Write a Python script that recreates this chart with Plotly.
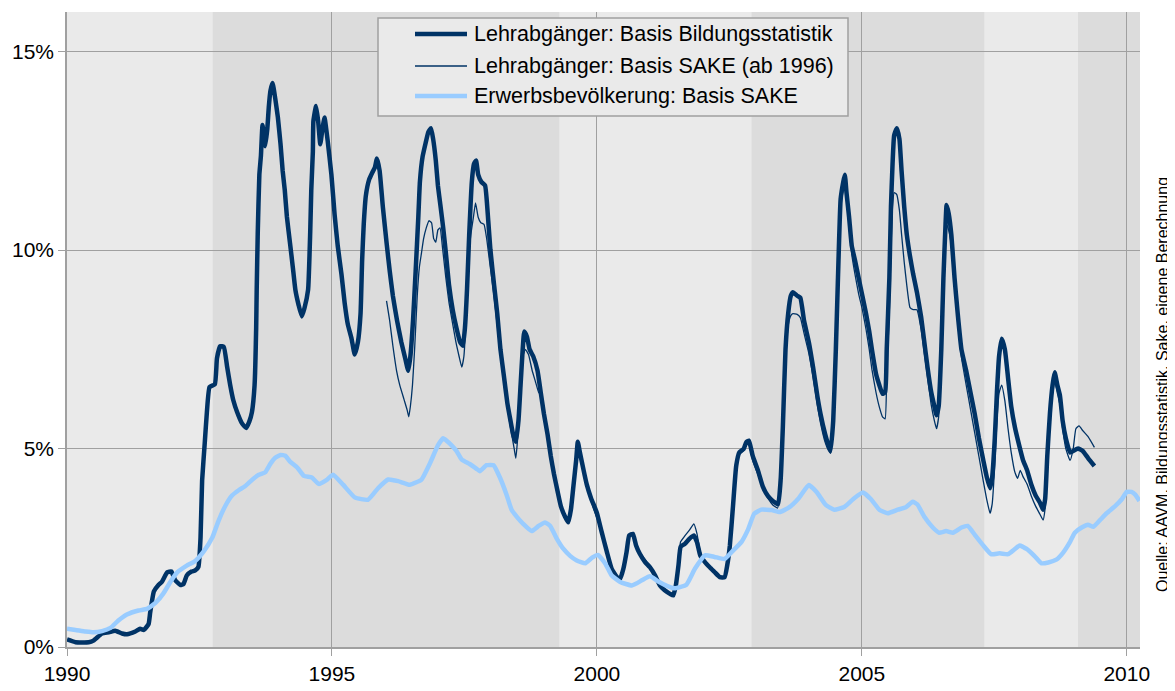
import plotly.graph_objects as go

# ---- Data ----
bild_year = [1990.0, 1990.16, 1990.41, 1990.5, 1990.66, 1990.79, 1990.91, 1991.04, 1991.13, 1991.29,
             1991.38, 1991.45, 1991.54, 1991.57, 1991.64, 1991.73, 1991.79, 1991.89, 1991.97, 1992.04,
             1992.14, 1992.2, 1992.26, 1992.35, 1992.42, 1992.48, 1992.52, 1992.55, 1992.6, 1992.64,
             1992.69, 1992.79, 1992.83, 1992.89, 1992.96, 1993.02, 1993.08, 1993.14, 1993.21, 1993.3,
             1993.38, 1993.44, 1993.49, 1993.54, 1993.57, 1993.58, 1993.6, 1993.63, 1993.66, 1993.69,
             1993.74, 1993.78, 1993.81, 1993.84, 1993.88, 1993.93, 1993.98, 1994.03, 1994.07, 1994.11,
             1994.15, 1994.21, 1994.26, 1994.31, 1994.37, 1994.43, 1994.48, 1994.55, 1994.59, 1994.61,
             1994.64, 1994.65, 1994.7, 1994.74, 1994.78, 1994.82, 1994.86, 1994.92, 1994.99, 1995.05,
             1995.11, 1995.18, 1995.24, 1995.3, 1995.37, 1995.43, 1995.49, 1995.54, 1995.57, 1995.6,
             1995.64, 1995.7, 1995.76, 1995.81, 1995.85, 1995.9, 1995.96, 1996.03, 1996.09, 1996.15,
             1996.23, 1996.31, 1996.39, 1996.44, 1996.48, 1996.53, 1996.58, 1996.63, 1996.66, 1996.71,
             1996.77, 1996.82, 1996.87, 1996.91, 1996.96, 1997.0, 1997.05, 1997.1, 1997.15, 1997.21,
             1997.28, 1997.35, 1997.42, 1997.47, 1997.51, 1997.55, 1997.59, 1997.64, 1997.68, 1997.72,
             1997.76, 1997.82, 1997.89, 1997.95, 1997.99, 1998.06, 1998.12, 1998.18, 1998.25, 1998.31,
             1998.37, 1998.42, 1998.47, 1998.52, 1998.56, 1998.6, 1998.63, 1998.68, 1998.73, 1998.8,
             1998.88, 1998.94, 1999.0, 1999.07, 1999.13, 1999.19, 1999.26, 1999.32, 1999.4, 1999.46,
             1999.51, 1999.56, 1999.61, 1999.64, 1999.68, 1999.75, 1999.81, 1999.89, 2000.0, 2000.09,
             2000.19, 2000.28, 2000.38, 2000.44, 2000.5, 2000.56, 2000.61, 2000.68, 2000.74, 2000.81,
             2000.91, 2001.0, 2001.1, 2001.19, 2001.28, 2001.38, 2001.44, 2001.49, 2001.54, 2001.58,
             2001.66, 2001.75, 2001.83, 2001.89, 2001.95, 2002.04, 2002.13, 2002.22, 2002.32, 2002.41,
             2002.46, 2002.51, 2002.57, 2002.63, 2002.69, 2002.77, 2002.82, 2002.87, 2002.94, 2003.04,
             2003.13, 2003.23, 2003.32, 2003.42, 2003.47, 2003.51, 2003.56, 2003.61, 2003.66, 2003.7,
             2003.78, 2003.84, 2003.91, 2004.0, 2004.08, 2004.16, 2004.22, 2004.31, 2004.37, 2004.41,
             2004.46, 2004.51, 2004.56, 2004.6, 2004.65, 2004.68, 2004.71, 2004.76, 2004.81, 2004.87,
             2004.94, 2005.01, 2005.08, 2005.14, 2005.19, 2005.27, 2005.33, 2005.39, 2005.44, 2005.47,
             2005.52, 2005.55, 2005.58, 2005.61, 2005.66, 2005.71, 2005.75, 2005.8, 2005.85, 2005.91,
             2005.97, 2006.04, 2006.12, 2006.18, 2006.24, 2006.31, 2006.37, 2006.41, 2006.45, 2006.5,
             2006.54, 2006.58, 2006.6, 2006.64, 2006.69, 2006.75, 2006.81, 2006.88, 2006.97, 2007.05,
             2007.13, 2007.21, 2007.29, 2007.36, 2007.42, 2007.46, 2007.51, 2007.55, 2007.59, 2007.64,
             2007.7, 2007.76, 2007.82, 2007.89, 2007.97, 2008.04, 2008.12, 2008.2, 2008.28, 2008.36,
             2008.42, 2008.46, 2008.5, 2008.55, 2008.6, 2008.64, 2008.69, 2008.74, 2008.79, 2008.85,
             2008.93, 2008.99, 2009.08, 2009.17, 2009.27, 2009.39]
bild_val = [0.19, 0.12, 0.12, 0.16, 0.34, 0.37, 0.41, 0.34, 0.32, 0.39,
            0.46, 0.43, 0.58, 0.87, 1.40, 1.57, 1.64, 1.88, 1.90, 1.69,
            1.56, 1.59, 1.80, 1.90, 1.93, 2.02, 2.75, 4.19, 5.15, 5.92,
            6.55, 6.62, 7.27, 7.58, 7.56, 7.08, 6.60, 6.21, 5.92, 5.64,
            5.52, 5.68, 5.92, 6.60, 8.04, 9.00, 10.45, 11.90, 12.38, 13.15,
            12.62, 13.05, 13.63, 14.02, 14.21, 13.82, 13.34, 12.67, 12.00, 11.51,
            10.84, 10.16, 9.59, 9.00, 8.62, 8.33, 8.53, 9.00, 10.45, 11.51,
            12.48, 13.25, 13.63, 13.25, 12.67, 13.05, 13.34, 12.75, 11.90, 10.90,
            10.10, 9.39, 8.67, 8.13, 7.77, 7.37, 7.68, 8.40, 9.75, 10.65,
            11.37, 11.77, 11.95, 12.08, 12.31, 12.00, 11.10, 10.20, 9.48, 8.85,
            8.22, 7.68, 7.23, 6.96, 7.32, 8.22, 9.48, 10.83, 11.72, 12.35,
            12.71, 12.98, 13.07, 12.80, 12.26, 11.63, 11.10, 10.56, 9.93, 9.12,
            8.49, 8.04, 7.68, 7.59, 8.04, 9.03, 10.38, 11.72, 12.17, 12.26,
            11.90, 11.72, 11.63, 10.74, 10.02, 9.12, 8.40, 7.50, 6.78, 6.15,
            5.70, 5.35, 5.17, 5.70, 6.60, 7.50, 7.95, 7.82, 7.50, 7.32,
            6.96, 6.42, 5.88, 5.35, 4.81, 4.36, 3.91, 3.55, 3.28, 3.14,
            3.46, 4.09, 4.72, 5.17, 4.90, 4.45, 4.09, 3.75, 3.38, 2.90,
            2.39, 1.97, 1.76, 1.72, 1.97, 2.39, 2.81, 2.85, 2.56, 2.35,
            2.14, 2.01, 1.80, 1.55, 1.43, 1.34, 1.30, 1.55, 2.06, 2.52,
            2.60, 2.73, 2.81, 2.64, 2.31, 2.14, 2.01, 1.89, 1.76, 1.76,
            2.06, 2.56, 3.57, 4.57, 4.91, 4.99, 5.16, 5.20, 4.82, 4.45,
            4.05, 3.80, 3.68, 3.60, 4.25, 5.55, 7.50, 8.40, 8.85, 8.94,
            8.85, 8.80, 8.22, 7.68, 7.05, 6.33, 5.88, 5.35, 5.08, 4.94,
            5.70, 7.50, 9.75, 11.28, 11.72, 11.90, 11.46, 10.83, 10.11, 9.75,
            9.30, 8.85, 8.40, 7.95, 7.50, 6.87, 6.60, 6.38, 6.42, 7.50,
            9.30, 11.10, 12.17, 12.89, 13.07, 12.80, 12.00, 11.10, 10.38, 9.84,
            9.39, 8.94, 8.31, 7.68, 7.05, 6.42, 6.06, 5.84, 6.06, 7.50,
            9.30, 10.65, 11.14, 10.92, 10.38, 9.30, 8.40, 7.50, 6.96, 6.42,
            5.88, 5.26, 4.72, 4.27, 4.00, 4.27, 5.26, 6.42, 7.32, 7.77,
            7.50, 6.78, 6.06, 5.53, 5.08, 4.72, 4.45, 4.09, 3.82, 3.64,
            3.46, 3.73, 4.81, 5.88, 6.60, 6.92, 6.60, 6.33, 5.70, 5.26,
            4.90, 4.94, 5.00, 4.94, 4.76, 4.56]

sake_year = [1996.03, 1996.09, 1996.15, 1996.22, 1996.28, 1996.36, 1996.42, 1996.45, 1996.48, 1996.52,
             1996.56, 1996.61, 1996.65, 1996.69, 1996.73, 1996.78, 1996.83, 1996.88, 1996.92, 1996.96,
             1997.0, 1997.04, 1997.09, 1997.15, 1997.21, 1997.28, 1997.34, 1997.4, 1997.45, 1997.49,
             1997.53, 1997.57, 1997.62, 1997.67, 1997.71, 1997.76, 1997.81, 1997.87, 1997.92, 1997.98,
             1998.05, 1998.11, 1998.18, 1998.25, 1998.31, 1998.37, 1998.44, 1998.47, 1998.51, 1998.55,
             1998.6, 1998.65, 1998.71, 1998.78, 1998.84, 1998.9, 1998.94, 1999.0, 1999.07, 1999.13,
             1999.19, 1999.26, 1999.32, 1999.4, 1999.46, 1999.51, 1999.56, 1999.61, 1999.64, 1999.68,
             1999.75, 1999.81, 1999.91, 2000.0, 2000.09, 2000.19, 2000.28, 2000.38, 2000.44, 2000.5,
             2000.56, 2000.61, 2000.68, 2000.74, 2000.81, 2000.91, 2001.0, 2001.1, 2001.19, 2001.28,
             2001.38, 2001.44, 2001.49, 2001.54, 2001.58, 2001.66, 2001.75, 2001.83, 2001.89, 2001.95,
             2002.04, 2002.13, 2002.22, 2002.32, 2002.41, 2002.46, 2002.51, 2002.57, 2002.63, 2002.69,
             2002.77, 2002.82, 2002.87, 2002.94, 2003.04, 2003.13, 2003.23, 2003.32, 2003.41, 2003.46,
             2003.5, 2003.54, 2003.57, 2003.61, 2003.66, 2003.7, 2003.78, 2003.84, 2003.91, 2004.0,
             2004.08, 2004.16, 2004.22, 2004.31, 2004.37, 2004.41, 2004.46, 2004.51, 2004.56, 2004.6,
             2004.65, 2004.68, 2004.71, 2004.76, 2004.81, 2004.87, 2004.94, 2005.01, 2005.08, 2005.14,
             2005.19, 2005.27, 2005.33, 2005.39, 2005.44, 2005.47, 2005.52, 2005.55, 2005.58, 2005.61,
             2005.66, 2005.71, 2005.75, 2005.8, 2005.85, 2005.91, 2005.97, 2006.04, 2006.12, 2006.18,
             2006.24, 2006.31, 2006.37, 2006.41, 2006.45, 2006.5, 2006.54, 2006.58, 2006.6, 2006.64,
             2006.69, 2006.75, 2006.81, 2006.88, 2006.97, 2007.05, 2007.13, 2007.21, 2007.29, 2007.36,
             2007.42, 2007.46, 2007.51, 2007.55, 2007.59, 2007.64, 2007.7, 2007.76, 2007.82, 2007.89,
             2007.94, 2007.99, 2008.04, 2008.12, 2008.2, 2008.28, 2008.36, 2008.42, 2008.46, 2008.5,
             2008.55, 2008.6, 2008.64, 2008.69, 2008.74, 2008.79, 2008.85, 2008.93, 2008.99, 2009.04,
             2009.1, 2009.17, 2009.27, 2009.39]
sake_val = [8.72, 8.22, 7.59, 6.96, 6.60, 6.24, 5.97, 5.80, 6.06, 6.60,
            7.50, 8.85, 9.57, 9.93, 10.29, 10.56, 10.74, 10.69, 10.29, 10.20,
            10.51, 10.56, 10.02, 9.30, 8.67, 8.13, 7.68, 7.32, 7.05, 7.32,
            8.22, 9.48, 10.38, 10.83, 11.19, 10.83, 10.69, 10.65, 10.29, 9.66,
            8.94, 8.22, 7.41, 6.60, 6.06, 5.53, 4.99, 4.76, 5.35, 6.42,
            7.32, 7.50, 7.37, 6.96, 6.69, 6.42, 6.35, 5.85, 5.30, 4.78,
            4.33, 3.88, 3.52, 3.25, 3.12, 3.44, 4.05, 4.68, 5.12, 4.86,
            4.42, 4.06, 3.60, 3.25, 2.95, 2.35, 1.93, 1.72, 1.68, 1.95,
            2.35, 2.78, 2.82, 2.60, 2.40, 2.20, 2.05, 1.82, 1.60, 1.45,
            1.33, 1.30, 1.60, 2.20, 2.65, 2.80, 2.95, 3.10, 2.85, 2.40,
            2.18, 2.03, 1.90, 1.77, 1.75, 2.05, 2.55, 3.50, 4.50, 4.85,
            4.95, 5.10, 5.10, 4.70, 4.35, 4.05, 3.75, 3.58, 3.50, 4.10,
            5.30, 6.50, 7.40, 8.10, 8.35, 8.40, 8.38, 8.30, 7.90, 7.40,
            6.80, 6.10, 5.65, 5.15, 4.95, 4.88, 5.60, 7.30, 9.50, 11.00,
            11.50, 11.60, 11.30, 10.60, 9.90, 9.40, 8.90, 8.50, 8.00, 7.50,
            7.00, 6.40, 6.05, 5.80, 5.75, 6.80, 8.50, 10.00, 11.10, 11.45,
            11.40, 11.00, 10.40, 9.70, 9.10, 8.55, 8.50, 8.50, 8.00, 7.40,
            6.80, 6.10, 5.70, 5.50, 5.80, 7.30, 9.00, 10.40, 10.65, 10.50,
            10.10, 9.10, 8.20, 7.30, 6.60, 6.00, 5.40, 4.80, 4.20, 3.70,
            3.37, 3.60, 4.60, 5.70, 6.40, 6.60, 6.20, 5.50, 4.90, 4.40,
            4.25, 4.45, 4.30, 4.10, 3.80, 3.55, 3.35, 3.20, 3.50, 4.60,
            5.70, 6.40, 6.70, 6.40, 6.10, 5.50, 5.00, 4.70, 5.00, 5.50,
            5.57, 5.45, 5.30, 5.03]

erw_year = [1990.0, 1990.16, 1990.35, 1990.5, 1990.66, 1990.82, 1990.97, 1991.13, 1991.35, 1991.51,
            1991.67, 1991.82, 1991.95, 1992.08, 1992.26, 1992.42, 1992.58, 1992.74, 1992.86, 1992.99,
            1993.11, 1993.24, 1993.36, 1993.49, 1993.62, 1993.74, 1993.84, 1993.93, 1994.03, 1994.12,
            1994.21, 1994.34, 1994.47, 1994.62, 1994.75, 1994.91, 1995.02, 1995.21, 1995.43, 1995.68,
            1995.87, 1996.06, 1996.25, 1996.47, 1996.69, 1996.85, 1997.0, 1997.1, 1997.23, 1997.35,
            1997.45, 1997.6, 1997.73, 1997.79, 1997.92, 1998.05, 1998.17, 1998.3, 1998.39, 1998.49,
            1998.61, 1998.77, 1998.9, 1999.02, 1999.12, 1999.24, 1999.37, 1999.5, 1999.62, 1999.78,
            1999.91, 2000.02, 2000.16, 2000.28, 2000.44, 2000.66, 2000.85, 2001.0, 2001.16, 2001.32,
            2001.47, 2001.69, 2001.85, 2002.04, 2002.22, 2002.41, 2002.57, 2002.73, 2002.85, 2002.97,
            2003.1, 2003.3, 2003.45, 2003.62, 2003.81, 2004.0, 2004.15, 2004.32, 2004.48, 2004.67,
            2004.84, 2005.02, 2005.17, 2005.33, 2005.49, 2005.68, 2005.83, 2005.96, 2006.05, 2006.18,
            2006.34, 2006.46, 2006.59, 2006.72, 2006.88, 2007.0, 2007.13, 2007.29, 2007.44, 2007.6,
            2007.76, 2007.89, 2007.98, 2008.11, 2008.26, 2008.39, 2008.52, 2008.67, 2008.8, 2008.93,
            2009.02, 2009.15, 2009.27, 2009.37, 2009.49, 2009.62, 2009.78, 2009.91, 2010.0, 2010.09,
            2010.16, 2010.24]
erw_val = [0.46, 0.43, 0.39, 0.37, 0.40, 0.48, 0.67, 0.82, 0.92, 0.96,
           1.11, 1.35, 1.64, 1.88, 2.05, 2.17, 2.41, 2.75, 3.18, 3.56,
           3.81, 3.95, 4.05, 4.21, 4.34, 4.40, 4.62, 4.77, 4.84, 4.82,
           4.67, 4.53, 4.31, 4.27, 4.11, 4.22, 4.34, 4.09, 3.77, 3.71,
           4.00, 4.22, 4.18, 4.09, 4.22, 4.63, 5.08, 5.26, 5.12, 4.94,
           4.72, 4.61, 4.49, 4.43, 4.58, 4.58, 4.27, 3.82, 3.46, 3.28,
           3.10, 2.92, 3.05, 3.14, 3.05, 2.74, 2.47, 2.29, 2.18, 2.11,
           2.25, 2.32, 2.10, 1.80, 1.64, 1.55, 1.68, 1.78, 1.65, 1.54,
           1.48, 1.57, 1.97, 2.31, 2.27, 2.22, 2.43, 2.65, 2.95, 3.36,
           3.46, 3.45, 3.40, 3.51, 3.75, 4.08, 3.90, 3.58, 3.46, 3.53,
           3.73, 3.89, 3.73, 3.46, 3.37, 3.46, 3.52, 3.66, 3.59, 3.28,
           3.01, 2.88, 2.92, 2.88, 3.01, 3.05, 2.83, 2.56, 2.34, 2.36,
           2.34, 2.47, 2.56, 2.47, 2.29, 2.11, 2.13, 2.20, 2.38, 2.65,
           2.88, 3.01, 3.08, 3.03, 3.19, 3.37, 3.55, 3.73, 3.91, 3.91,
           3.84, 3.68]

# Shaded phases (dark bands)
band_start = [1992.75, 2002.92, 2009.08]
band_end = [1999.29, 2007.31, 2010.25]

x_ticks = [1990, 1995, 2000, 2005, 2010]
y_ticks = [0, 5, 10, 15]
y_tick_labels = ["0%", "5%", "10%", "15%"]

names = ["Lehrabgänger: Basis Bildungsstatistik",
         "Lehrabgänger: Basis SAKE (ab 1996)",
         "Erwerbsbevölkerung: Basis SAKE"]
source_text = "Quelle: AAVM, Bildungsstatistik, Sake, eigene Berechnung"

NAVY = "#003366"
LIGHT = "#99ccff"
FONT = "Liberation Sans, Arial, sans-serif"
colors = [NAVY, NAVY, LIGHT]
widths = [4.5, 1.3, 4.5]

# page body has an 8px margin: figure is sized to fill the rest of the window
W, H = 1167, 683
ML, MR, MT, MB = 59, 35, 4, 44
PW, PH = W - ML - MR, H - MT - MB


def px(xp):  # page pixel (reference) -> paper x
    return (xp - 8 - ML) / PW


def py(yp):  # page pixel (reference) -> paper y
    return (H - MB - (yp - 8)) / PH


fig = go.Figure()
for yrs, vals, nm, c, w in zip([bild_year, sake_year, erw_year], [bild_val, sake_val, erw_val],
                               names, colors, widths):
    fig.add_trace(go.Scatter(x=yrs, y=vals, mode="lines", name=nm, showlegend=False,
                             line=dict(color=c, width=w, shape="spline", smoothing=0.4)))

shapes = []
for s, e in zip(band_start, band_end):
    shapes.append(dict(type="rect", xref="x", yref="paper", x0=s, x1=e, y0=0, y1=1,
                       fillcolor="#dcdcdc", line=dict(width=0), layer="below"))

# legend box (drawn manually for exact placement)
shapes.append(dict(type="rect", xref="paper", yref="paper", x0=px(378), x1=px(848),
                   y0=py(116), y1=py(18), fillcolor="#eaeaea",
                   line=dict(color="#a0a0a0", width=1.5), layer="above"))
row_y = [34, 66, 96]
annotations = []
for ry, nm, c, w in zip(row_y, names, colors, widths):
    shapes.append(dict(type="line", xref="paper", yref="paper", x0=px(415), x1=px(467),
                       y0=py(ry), y1=py(ry), line=dict(color=c, width=w), layer="above"))
    annotations.append(dict(text=nm, xref="paper", yref="paper", x=px(472), y=py(ry),
                            xanchor="left", yanchor="middle", showarrow=False,
                            font=dict(family=FONT, size=21.5, color="black")))

annotations.append(dict(text=source_text, xref="paper", yref="paper", x=px(1162), y=py(385),
                        textangle=-90, showarrow=False, xanchor="center", yanchor="middle",
                        font=dict(family=FONT, size=16, color="black")))

fig.update_layout(
    width=W, height=H,
    margin=dict(l=ML, r=MR, t=MT, b=MB),
    paper_bgcolor="white",
    plot_bgcolor="#eaeaea",
    shapes=shapes,
    annotations=annotations,
    showlegend=False,
    font=dict(family=FONT, color="black"),
)
fig.update_xaxes(range=[1990, 2010.25], tickmode="array", tickvals=x_ticks,
                 ticktext=[str(v) for v in x_ticks],
                 showgrid=True, gridcolor="#a0a0a0", gridwidth=1,
                 showline=True, linecolor="#a0a0a0", linewidth=1.5,
                 ticks="outside", ticklen=7, tickcolor="#a0a0a0",
                 tickfont=dict(family=FONT, size=21, color="black"), zeroline=False,
                 automargin=False)
fig.update_yaxes(range=[0, 16], tickmode="array", tickvals=y_ticks, ticktext=y_tick_labels,
                 showgrid=True, gridcolor="#a0a0a0", gridwidth=1,
                 showline=True, linecolor="#a0a0a0", linewidth=1.5,
                 ticks="outside", ticklen=7, tickcolor="#a0a0a0",
                 tickfont=dict(family=FONT, size=21, color="black"), zeroline=False,
                 automargin=False)

fig.write_html("out.html")
